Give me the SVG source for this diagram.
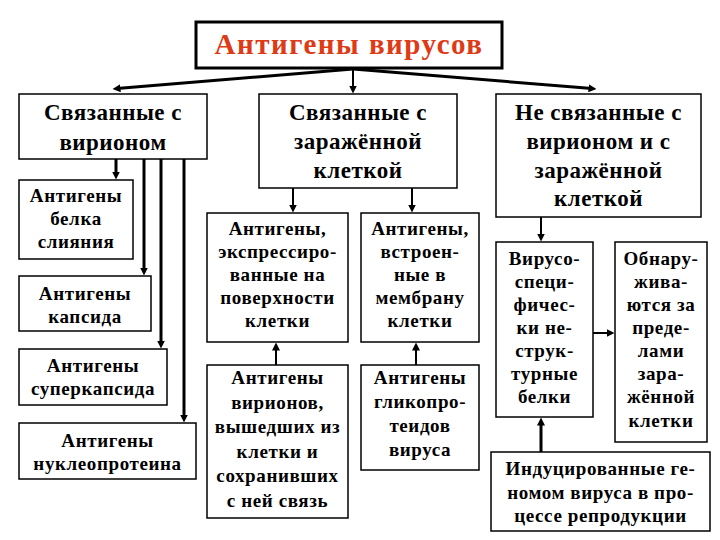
<svg xmlns="http://www.w3.org/2000/svg" width="720" height="540" viewBox="0 0 720 540">
<style>
.box{fill:#fff;stroke:#000;stroke-width:1.5}
.tbox{fill:#fff;stroke:#000;stroke-width:3}
.c{stroke:#000;fill:none}
.w3{stroke-width:3}
.w2{stroke-width:2}
</style>
<defs>
<marker id="ah" viewBox="0 0 8 8" refX="0.5" refY="4" markerWidth="8" markerHeight="8" markerUnits="userSpaceOnUse" orient="auto">
<path d="M0,0 L8,4 L0,8 z" fill="#000"/>
</marker>
</defs>
<rect width="720" height="540" fill="#fff"/>
<g id="connectors">
<line class="c w3" x1="353" y1="69" x2="120" y2="88.3" marker-end="url(#ah)"/>
<line class="c w3" x1="353" y1="69" x2="589" y2="88.3" marker-end="url(#ah)"/>
<line class="c w2" x1="353" y1="69" x2="353" y2="86" marker-end="url(#ah)"/>
<line class="c w3" x1="116" y1="159" x2="116" y2="172" marker-end="url(#ah)"/>
<line class="c w3" x1="144" y1="159" x2="144" y2="268" marker-end="url(#ah)"/>
<line class="c w3" x1="161" y1="159" x2="161" y2="341" marker-end="url(#ah)"/>
<line class="c w3" x1="184" y1="159" x2="184" y2="415" marker-end="url(#ah)"/>
<line class="c w2" x1="293" y1="188" x2="293" y2="205" marker-end="url(#ah)"/>
<line class="c w2" x1="412" y1="188" x2="412" y2="205" marker-end="url(#ah)"/>
<line class="c w2" x1="276" y1="365" x2="276" y2="350" marker-end="url(#ah)"/>
<line class="c w2" x1="416" y1="365" x2="416" y2="350" marker-end="url(#ah)"/>
<line class="c w2" x1="541" y1="217" x2="541" y2="234" marker-end="url(#ah)"/>
<line class="c w2" x1="593" y1="333" x2="607" y2="333" marker-end="url(#ah)"/>
<line class="c w3" x1="541" y1="452" x2="541" y2="425" marker-end="url(#ah)"/>
</g>
<g id="title">
<rect class="tbox" x="196" y="22" width="306" height="46"/>
<text font-family="Liberation Serif, serif" font-weight="bold" font-size="29" letter-spacing="1.5" text-anchor="middle" fill="#de3a16" x="349" y="54">Антигены вирусов</text>
</g>
<g font-family="Liberation Serif, serif" font-weight="bold" font-size="23" letter-spacing="0.5" text-anchor="middle" fill="#000">
<g id="virion">
<rect class="box" x="19" y="94" width="188" height="65"/>
<text x="113" y="120">Связанные с<tspan x="113" dy="30">вирионом</tspan></text>
</g>
<g id="cell">
<rect class="box" x="259" y="94" width="198" height="94"/>
<text x="358" y="120">Связанные с<tspan x="358" dy="29">заражённой</tspan><tspan x="358" dy="29">клеткой</tspan></text>
</g>
<g id="notlinked">
<rect class="box" x="496" y="94" width="205" height="123"/>
<text x="598.5" y="120">Не связанные с<tspan x="598.5" dy="29">вирионом и с</tspan><tspan x="598.5" dy="29">заражённой</tspan><tspan x="598.5" dy="28">клеткой</tspan></text>
</g>
</g>
<g font-family="Liberation Serif, serif" font-weight="bold" font-size="19" letter-spacing="0.6" text-anchor="middle" fill="#000">
<g id="fusion">
<rect class="box" x="19" y="180" width="114" height="79"/>
<text x="76" y="202">Антигены<tspan x="76" dy="23">белка</tspan><tspan x="76" dy="23">слияния</tspan></text>
</g>
<g id="capsid">
<rect class="box" x="19" y="276" width="132" height="55"/>
<text x="85" y="300">Антигены<tspan x="85" dy="23">капсида</tspan></text>
</g>
<g id="supercapsid">
<rect class="box" x="19" y="349" width="148" height="56"/>
<text x="93" y="372">Антигены<tspan x="93" dy="23">суперкапсида</tspan></text>
</g>
<g id="nucleoprotein">
<rect class="box" x="19" y="423" width="177" height="56"/>
<text x="107.5" y="447">Антигены<tspan x="107.5" dy="23">нуклеопротеина</tspan></text>
</g>
<g id="expressed">
<rect class="box" x="207" y="213" width="141" height="129"/>
<text x="277.5" y="235">Антигены,<tspan x="277.5" dy="23">экспрессиро-</tspan><tspan x="277.5" dy="23">ванные на</tspan><tspan x="277.5" dy="23">поверхности</tspan><tspan x="277.5" dy="23">клетки</tspan></text>
</g>
<g id="membrane">
<rect class="box" x="361" y="213" width="118" height="129"/>
<text x="420" y="235">Антигены,<tspan x="420" dy="23">встроен-</tspan><tspan x="420" dy="23">ные в</tspan><tspan x="420" dy="23">мембрану</tspan><tspan x="420" dy="23">клетки</tspan></text>
</g>
<g id="virions">
<rect class="box" x="207" y="365" width="141" height="153"/>
<text x="277.5" y="384">Антигены<tspan x="277.5" dy="24.5">вирионов,</tspan><tspan x="277.5" dy="24.5">вышедших из</tspan><tspan x="277.5" dy="24.5">клетки и</tspan><tspan x="277.5" dy="24.5">сохранивших</tspan><tspan x="277.5" dy="24.5">с ней связь</tspan></text>
</g>
<g id="glyco">
<rect class="box" x="361" y="365" width="118" height="105"/>
<text x="420" y="384">Антигены<tspan x="420" dy="24">гликопро-</tspan><tspan x="420" dy="24">теидов</tspan><tspan x="420" dy="24">вируса</tspan></text>
</g>
<g id="nonstruct">
<rect class="box" x="496" y="242" width="97" height="175"/>
<text x="544.5" y="265">Вирусо-<tspan x="544.5" dy="23">специ-</tspan><tspan x="544.5" dy="23">фичес-</tspan><tspan x="544.5" dy="23">ки не-</tspan><tspan x="544.5" dy="23">струк-</tspan><tspan x="544.5" dy="23">турные</tspan><tspan x="544.5" dy="23">белки</tspan></text>
</g>
<g id="outside">
<rect class="box" x="615" y="242" width="92" height="200"/>
<text x="661" y="265">Обнару-<tspan x="661" dy="23">жива-</tspan><tspan x="661" dy="23">ются за</tspan><tspan x="661" dy="23">преде-</tspan><tspan x="661" dy="23">лами</tspan><tspan x="661" dy="23">зара-</tspan><tspan x="661" dy="23">жённой</tspan><tspan x="661" dy="24">клетки</tspan></text>
</g>
<g id="induced">
<rect class="box" x="491" y="452" width="219" height="79"/>
<text x="600.5" y="475">Индуцированные ге-<tspan x="600.5" dy="23.5">номом вируса в про-</tspan><tspan x="600.5" dy="23.5">цессе репродукции</tspan></text>
</g>
</g>
</svg>
